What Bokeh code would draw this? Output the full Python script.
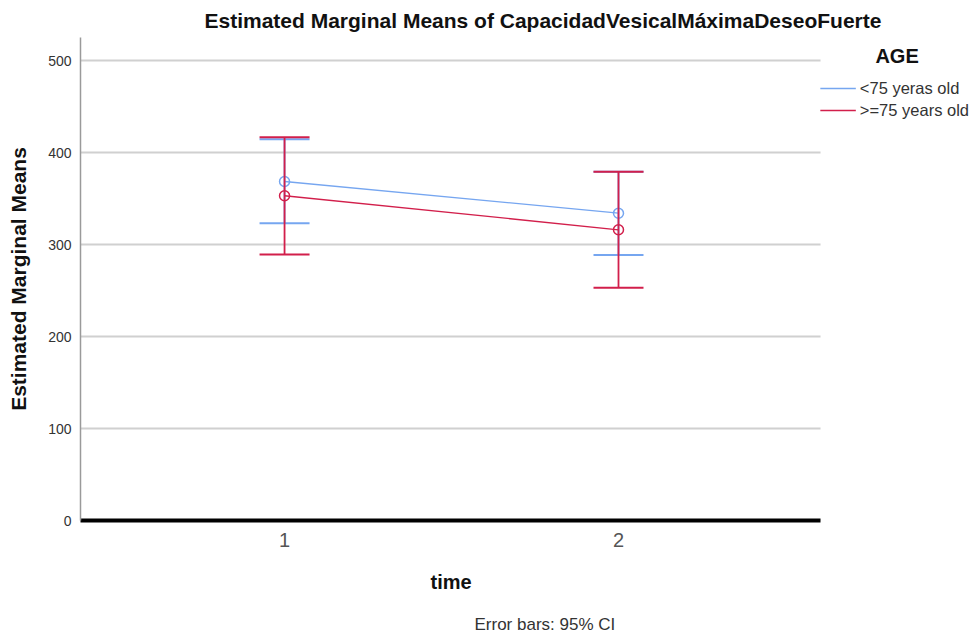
from bokeh.plotting import figure
from bokeh.models import Range1d, Legend, LegendItem, FixedTicker, Title
from bokeh.embed import file_html
from bokeh.resources import INLINE

# Estimated marginal means with 95% CI, by time and age group
times = [1, 2]
group_names = ["<75 yeras old", ">=75 years old"]
young_mean = [368.5, 334.0]
young_lower = [323.0, 288.5]
young_upper = [414.5, 379.0]
old_mean = [353.0, 316.0]
old_lower = [289.0, 253.0]
old_upper = [416.5, 379.0]
y_ticks = [0, 100, 200, 300, 400, 500]

BLUE = "#76a6f0"
RED = "#d21f4b"
FONT = "Liberation Sans"

# the plotting area runs from 0.389 to 2.605; the frame extends further right
# so that the legend can sit beside it
X_START, X_END, X_FRAME_END = 0.389, 2.605, 3.075

p = figure(width=977, height=637, output_backend="svg", toolbar_location=None,
           x_range=Range1d(X_START, X_FRAME_END), y_range=Range1d(0, 525),
           min_border_left=80, min_border_right=0, min_border_top=37,
           min_border_bottom=117)
p.outline_line_color = None
p.background_fill_color = "white"
p.border_fill_color = "white"

# chart title
p.title.text = "Estimated Marginal Means of CapacidadVesicalMáximaDeseoFuerte"
p.title.align = "left"
p.title.offset = 124
p.title.standoff = 11
p.title.text_font = FONT
p.title.text_font_size = "21px"
p.title.text_font_style = "bold"
p.title.text_color = "#111111"

# x axis title and footnote, placed under the tick labels
x_title = Title(text="time", align="left", offset=350, standoff=38,
                text_font=FONT, text_font_size="20px", text_font_style="bold",
                text_color="#111111")
p.add_layout(x_title, "below")
foot = Title(text="Error bars: 95% CI", align="left", offset=394, standoff=2,
             text_font=FONT, text_font_size="17px", text_font_style="normal",
             text_color="#333333")
p.add_layout(foot, "below")

# horizontal gridlines, limited to the plotting area
p.xgrid.visible = False
p.ygrid.visible = False
p.segment(x0=[X_START] * len(y_ticks), y0=y_ticks,
          x1=[X_END] * len(y_ticks), y1=y_ticks,
          line_color="#d0d0d0", line_width=2)

# y axis
p.yaxis.ticker = FixedTicker(ticks=y_ticks)
p.yaxis.axis_line_color = "#9a9a9a"
p.yaxis.axis_line_width = 1.5
p.yaxis.major_tick_out = 0
p.yaxis.major_tick_in = 0
p.yaxis.major_tick_line_color = None
p.yaxis.minor_tick_line_color = None
p.yaxis.major_label_text_font = FONT
p.yaxis.major_label_text_font_size = "14px"
p.yaxis.major_label_text_color = "#333333"
p.yaxis.major_label_standoff = 9
p.yaxis.axis_label = "Estimated Marginal Means"
p.yaxis.axis_label_text_font = FONT
p.yaxis.axis_label_text_font_size = "21px"
p.yaxis.axis_label_text_font_style = "bold"
p.yaxis.axis_label_text_color = "#111111"
p.yaxis.axis_label_standoff = 15

# x axis
p.xaxis.ticker = FixedTicker(ticks=times)
p.xaxis.bounds = (X_START, X_END)
p.xaxis.axis_line_color = "black"
p.xaxis.axis_line_width = 4
p.xaxis.major_tick_out = 0
p.xaxis.major_tick_in = 0
p.xaxis.major_tick_line_color = None
p.xaxis.minor_tick_line_color = None
p.xaxis.major_label_text_font = FONT
p.xaxis.major_label_text_font_size = "20px"
p.xaxis.major_label_text_color = "#555555"
p.xaxis.major_label_standoff = 12

renderers = []
for mean, lo, hi, color in [(young_mean, young_lower, young_upper, BLUE),
                            (old_mean, old_lower, old_upper, RED)]:
    p.segment(x0=times, y0=lo, x1=times, y1=hi, line_color=color, line_width=1.8)
    p.scatter(x=times, y=lo, marker="dash", size=50, line_color=color, line_width=2)
    p.scatter(x=times, y=hi, marker="dash", size=50, line_color=color, line_width=2)
    r = p.line(x=times, y=mean, line_color=color, line_width=1.3)
    p.scatter(x=times, y=mean, marker="circle", size=10, fill_color=None,
              line_color=color, line_width=1.5)
    renderers.append(r)

legend = Legend(items=[LegendItem(label=n, renderers=[r]) for n, r in zip(group_names, renderers)],
                title="\u00a0" * 10 + "AGE", title_text_font=FONT,
                title_text_font_size="20px", title_text_font_style="bold",
                title_text_color="#111111", title_standoff=10,
                location="top_right", glyph_width=36, glyph_height=20, spacing=2,
                label_standoff=4, padding=4, margin=8,
                label_text_font=FONT, label_text_font_size="16.5px",
                label_text_color="#333333", border_line_color=None,
                background_fill_alpha=0)
p.add_layout(legend, "center")

open("out.html", "w").write(file_html(p, INLINE))
